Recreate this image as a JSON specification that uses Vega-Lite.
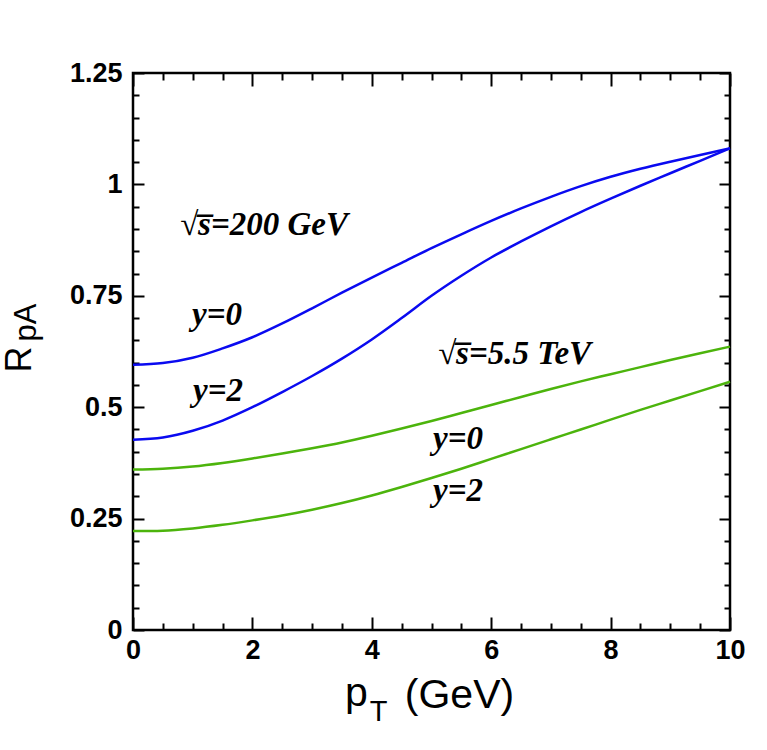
{
  "$schema": "https://vega.github.io/schema/vega-lite/v6.json",
  "width": 597,
  "height": 557,
  "autosize": {"type": "none"},
  "padding": {"left": 133, "top": 73, "right": 37, "bottom": 120},
  "background": "white",
  "config": {
    "view": {"stroke": "black", "strokeWidth": 2.5},
    "axis": {
      "grid": false,
      "domain": false,
      "tickColor": "black",
      "tickWidth": 2,
      "labelColor": "black",
      "titleColor": "black",
      "labelFont": "Liberation Sans",
      "labelFontWeight": "bold",
      "labelFontSize": 27,
      "titleFont": "Liberation Sans",
      "titleFontWeight": "normal",
      "labelOverlap": false,
      "labelFlush": false
    }
  },
  "datasets": {
    "curves": [
      {"series": "200 GeV y=0", "pt": 0, "r": 0.595},
      {"series": "200 GeV y=0", "pt": 0.5, "r": 0.599},
      {"series": "200 GeV y=0", "pt": 1, "r": 0.611},
      {"series": "200 GeV y=0", "pt": 1.5, "r": 0.632},
      {"series": "200 GeV y=0", "pt": 2, "r": 0.657},
      {"series": "200 GeV y=0", "pt": 2.5, "r": 0.688},
      {"series": "200 GeV y=0", "pt": 3, "r": 0.722},
      {"series": "200 GeV y=0", "pt": 3.5, "r": 0.757},
      {"series": "200 GeV y=0", "pt": 4, "r": 0.791},
      {"series": "200 GeV y=0", "pt": 4.5, "r": 0.824},
      {"series": "200 GeV y=0", "pt": 5, "r": 0.857},
      {"series": "200 GeV y=0", "pt": 5.5, "r": 0.888},
      {"series": "200 GeV y=0", "pt": 6, "r": 0.918},
      {"series": "200 GeV y=0", "pt": 6.5, "r": 0.946},
      {"series": "200 GeV y=0", "pt": 7, "r": 0.972},
      {"series": "200 GeV y=0", "pt": 7.5, "r": 0.996},
      {"series": "200 GeV y=0", "pt": 8, "r": 1.017},
      {"series": "200 GeV y=0", "pt": 8.5, "r": 1.035},
      {"series": "200 GeV y=0", "pt": 9, "r": 1.051},
      {"series": "200 GeV y=0", "pt": 9.5, "r": 1.066},
      {"series": "200 GeV y=0", "pt": 10, "r": 1.081},
      {"series": "200 GeV y=2", "pt": 0, "r": 0.427},
      {"series": "200 GeV y=2", "pt": 0.5, "r": 0.432},
      {"series": "200 GeV y=2", "pt": 1, "r": 0.447},
      {"series": "200 GeV y=2", "pt": 1.5, "r": 0.47},
      {"series": "200 GeV y=2", "pt": 2, "r": 0.5},
      {"series": "200 GeV y=2", "pt": 2.5, "r": 0.534},
      {"series": "200 GeV y=2", "pt": 3, "r": 0.57},
      {"series": "200 GeV y=2", "pt": 3.5, "r": 0.609},
      {"series": "200 GeV y=2", "pt": 4, "r": 0.652},
      {"series": "200 GeV y=2", "pt": 4.5, "r": 0.7},
      {"series": "200 GeV y=2", "pt": 5, "r": 0.75},
      {"series": "200 GeV y=2", "pt": 5.5, "r": 0.795},
      {"series": "200 GeV y=2", "pt": 6, "r": 0.836},
      {"series": "200 GeV y=2", "pt": 6.5, "r": 0.872},
      {"series": "200 GeV y=2", "pt": 7, "r": 0.906},
      {"series": "200 GeV y=2", "pt": 7.5, "r": 0.938},
      {"series": "200 GeV y=2", "pt": 8, "r": 0.968},
      {"series": "200 GeV y=2", "pt": 8.5, "r": 0.997},
      {"series": "200 GeV y=2", "pt": 9, "r": 1.025},
      {"series": "200 GeV y=2", "pt": 9.5, "r": 1.053},
      {"series": "200 GeV y=2", "pt": 10, "r": 1.081},
      {"series": "5.5 TeV y=0", "pt": 0, "r": 0.36},
      {"series": "5.5 TeV y=0", "pt": 0.5, "r": 0.362},
      {"series": "5.5 TeV y=0", "pt": 1, "r": 0.367},
      {"series": "5.5 TeV y=0", "pt": 1.5, "r": 0.375},
      {"series": "5.5 TeV y=0", "pt": 2, "r": 0.385},
      {"series": "5.5 TeV y=0", "pt": 2.5, "r": 0.396},
      {"series": "5.5 TeV y=0", "pt": 3, "r": 0.408},
      {"series": "5.5 TeV y=0", "pt": 3.5, "r": 0.421},
      {"series": "5.5 TeV y=0", "pt": 4, "r": 0.436},
      {"series": "5.5 TeV y=0", "pt": 4.5, "r": 0.452},
      {"series": "5.5 TeV y=0", "pt": 5, "r": 0.469},
      {"series": "5.5 TeV y=0", "pt": 5.5, "r": 0.487},
      {"series": "5.5 TeV y=0", "pt": 6, "r": 0.505},
      {"series": "5.5 TeV y=0", "pt": 6.5, "r": 0.523},
      {"series": "5.5 TeV y=0", "pt": 7, "r": 0.541},
      {"series": "5.5 TeV y=0", "pt": 7.5, "r": 0.558},
      {"series": "5.5 TeV y=0", "pt": 8, "r": 0.574},
      {"series": "5.5 TeV y=0", "pt": 8.5, "r": 0.59},
      {"series": "5.5 TeV y=0", "pt": 9, "r": 0.606},
      {"series": "5.5 TeV y=0", "pt": 9.5, "r": 0.621},
      {"series": "5.5 TeV y=0", "pt": 10, "r": 0.636},
      {"series": "5.5 TeV y=2", "pt": 0, "r": 0.222},
      {"series": "5.5 TeV y=2", "pt": 0.5, "r": 0.223},
      {"series": "5.5 TeV y=2", "pt": 1, "r": 0.228},
      {"series": "5.5 TeV y=2", "pt": 1.5, "r": 0.236},
      {"series": "5.5 TeV y=2", "pt": 2, "r": 0.246},
      {"series": "5.5 TeV y=2", "pt": 2.5, "r": 0.257},
      {"series": "5.5 TeV y=2", "pt": 3, "r": 0.27},
      {"series": "5.5 TeV y=2", "pt": 3.5, "r": 0.285},
      {"series": "5.5 TeV y=2", "pt": 4, "r": 0.302},
      {"series": "5.5 TeV y=2", "pt": 4.5, "r": 0.321},
      {"series": "5.5 TeV y=2", "pt": 5, "r": 0.341},
      {"series": "5.5 TeV y=2", "pt": 5.5, "r": 0.362},
      {"series": "5.5 TeV y=2", "pt": 6, "r": 0.384},
      {"series": "5.5 TeV y=2", "pt": 6.5, "r": 0.406},
      {"series": "5.5 TeV y=2", "pt": 7, "r": 0.428},
      {"series": "5.5 TeV y=2", "pt": 7.5, "r": 0.45},
      {"series": "5.5 TeV y=2", "pt": 8, "r": 0.472},
      {"series": "5.5 TeV y=2", "pt": 8.5, "r": 0.494},
      {"series": "5.5 TeV y=2", "pt": 9, "r": 0.515},
      {"series": "5.5 TeV y=2", "pt": 9.5, "r": 0.536},
      {"series": "5.5 TeV y=2", "pt": 10, "r": 0.557}
    ],
    "labels": [
      {"group": "rhic", "text": "√s̅=200 GeV", "pt": 0.787, "r": 0.8865},
      {"group": "rhic", "text": "y=0", "pt": 0.988, "r": 0.685},
      {"group": "rhic", "text": "y=2", "pt": 1.005, "r": 0.513},
      {"group": "lhc", "text": "√s̅=5.5 TeV", "pt": 5.109, "r": 0.598},
      {"group": "lhc", "text": "y=0", "pt": 5.025, "r": 0.407},
      {"group": "lhc", "text": "y=2", "pt": 5.025, "r": 0.289}
    ]
  },
  "resolve": {"axis": {"x": "independent", "y": "independent"}},
  "layer": [
    {
      "data": {"name": "curves"},
      "transform": [{"filter": "datum.series === '200 GeV y=0'"}],
      "mark": {"type": "line", "interpolate": "monotone", "strokeWidth": 2.5, "color": "#0a0af0"},
      "encoding": {
        "x": {
          "field": "pt", "type": "quantitative",
          "scale": {"domain": [0, 10], "nice": false, "zero": false},
          "axis": {
            "orient": "bottom",
            "values": [0, 2, 4, 6, 8, 10],
            "ticks": false,
            "tickSize": 0,
            "format": "d",
            "labelPadding": 7,
            "labelBaseline": "top",
            "title": "p",
            "titleFontSize": 41,
            "titleX": 223,
            "titleY": 75,
            "titleAlign": "center",
            "titleBaseline": "alphabetic",
            "titleAngle": 0
          }
        },
        "y": {
          "field": "r", "type": "quantitative",
          "scale": {"domain": [0, 1.25], "nice": false, "zero": false},
          "axis": {
            "orient": "left",
            "values": [0, 0.25, 0.5, 0.75, 1, 1.25],
            "ticks": false,
            "tickSize": 0,
            "labelExpr": "'' + datum.value",
            "labelPadding": 11,
            "title": "R",
            "titleFontSize": 36,
            "titleX": -103,
            "titleY": 286,
            "titleAngle": -90,
            "titleAlign": "center",
            "titleBaseline": "alphabetic"
          }
        }
      }
    },
    {
      "data": {"name": "curves"},
      "transform": [{"filter": "datum.series === '200 GeV y=2'"}],
      "mark": {"type": "line", "interpolate": "monotone", "strokeWidth": 2.5, "color": "#0a0af0"},
      "encoding": {
        "x": {
          "field": "pt", "type": "quantitative",
          "scale": {"domain": [0, 10], "nice": false, "zero": false},
          "axis": {
            "orient": "top",
            "offset": -557,
            "values": [0, 2, 4, 6, 8, 10],
            "tickSize": 13,
            "labels": false,
            "title": "(GeV)",
            "titleFontSize": 41,
            "titleX": 326,
            "titleY": 77,
            "titleAlign": "center",
            "titleBaseline": "alphabetic",
            "titleAngle": 0
          }
        },
        "y": {
          "field": "r", "type": "quantitative",
          "scale": {"domain": [0, 1.25], "nice": false, "zero": false},
          "axis": {
            "orient": "right",
            "offset": -597,
            "values": [0, 0.25, 0.5, 0.75, 1, 1.25],
            "tickSize": 11,
            "labels": false,
            "title": "pA",
            "titleFontSize": 31,
            "titleX": -98,
            "titleY": 249,
            "titleAngle": -90,
            "titleAlign": "center",
            "titleBaseline": "alphabetic"
          }
        }
      }
    },
    {
      "data": {"name": "curves"},
      "transform": [{"filter": "indexof(datum.series, '5.5 TeV') === 0"}],
      "mark": {"type": "line", "interpolate": "monotone", "strokeWidth": 2.5, "color": "#4cb40c"},
      "encoding": {
        "detail": {"field": "series"},
        "x": {
          "field": "pt", "type": "quantitative",
          "scale": {"domain": [0, 10], "nice": false, "zero": false},
          "axis": {
            "orient": "top",
            "offset": -557,
            "values": [0.5, 1, 1.5, 2.5, 3, 3.5, 4.5, 5, 5.5, 6.5, 7, 7.5, 8.5, 9, 9.5],
            "tickSize": 7,
            "labels": false,
            "title": "T",
            "titleFontSize": 29,
            "titleX": 245,
            "titleY": 90,
            "titleAlign": "center",
            "titleBaseline": "alphabetic",
            "titleAngle": 0
          }
        },
        "y": {
          "field": "r", "type": "quantitative",
          "scale": {"domain": [0, 1.25], "nice": false, "zero": false},
          "axis": {
            "orient": "right",
            "offset": -597,
            "values": [0.05, 0.1, 0.15, 0.2, 0.3, 0.35, 0.4, 0.45, 0.55, 0.6, 0.65, 0.7, 0.8, 0.85, 0.9, 0.95, 1.05, 1.1, 1.15, 1.2],
            "tickSize": 6,
            "labels": false,
            "title": null
          }
        }
      }
    },
    {
      "data": {"name": "labels"},
      "transform": [{"filter": "datum.group === 'rhic'"}],
      "mark": {"type": "text", "font": "Liberation Serif", "fontStyle": "italic", "fontWeight": "bold", "fontSize": 33, "align": "left", "baseline": "alphabetic", "color": "black"},
      "encoding": {
        "text": {"field": "text"},
        "x": {
          "field": "pt", "type": "quantitative",
          "scale": {"domain": [0, 10], "nice": false, "zero": false},
          "axis": {
            "orient": "bottom",
            "offset": -557,
            "values": [0, 2, 4, 6, 8, 10],
            "tickSize": 13,
            "labels": false,
            "title": null
          }
        },
        "y": {
          "field": "r", "type": "quantitative",
          "scale": {"domain": [0, 1.25], "nice": false, "zero": false},
          "axis": {
            "orient": "left",
            "offset": -597,
            "values": [0, 0.25, 0.5, 0.75, 1, 1.25],
            "tickSize": 11,
            "labels": false,
            "title": null
          }
        }
      }
    },
    {
      "data": {"name": "labels"},
      "transform": [{"filter": "datum.group === 'lhc'"}],
      "mark": {"type": "text", "font": "Liberation Serif", "fontStyle": "italic", "fontWeight": "bold", "fontSize": 33, "align": "left", "baseline": "alphabetic", "color": "black"},
      "encoding": {
        "text": {"field": "text"},
        "x": {
          "field": "pt", "type": "quantitative",
          "scale": {"domain": [0, 10], "nice": false, "zero": false},
          "axis": {
            "orient": "bottom",
            "offset": -557,
            "values": [0.5, 1, 1.5, 2.5, 3, 3.5, 4.5, 5, 5.5, 6.5, 7, 7.5, 8.5, 9, 9.5],
            "tickSize": 7,
            "labels": false,
            "title": null
          }
        },
        "y": {
          "field": "r", "type": "quantitative",
          "scale": {"domain": [0, 1.25], "nice": false, "zero": false},
          "axis": {
            "orient": "left",
            "offset": -597,
            "values": [0.05, 0.1, 0.15, 0.2, 0.3, 0.35, 0.4, 0.45, 0.55, 0.6, 0.65, 0.7, 0.8, 0.85, 0.9, 0.95, 1.05, 1.1, 1.15, 1.2],
            "tickSize": 6,
            "labels": false,
            "title": null
          }
        }
      }
    }
  ]
}
